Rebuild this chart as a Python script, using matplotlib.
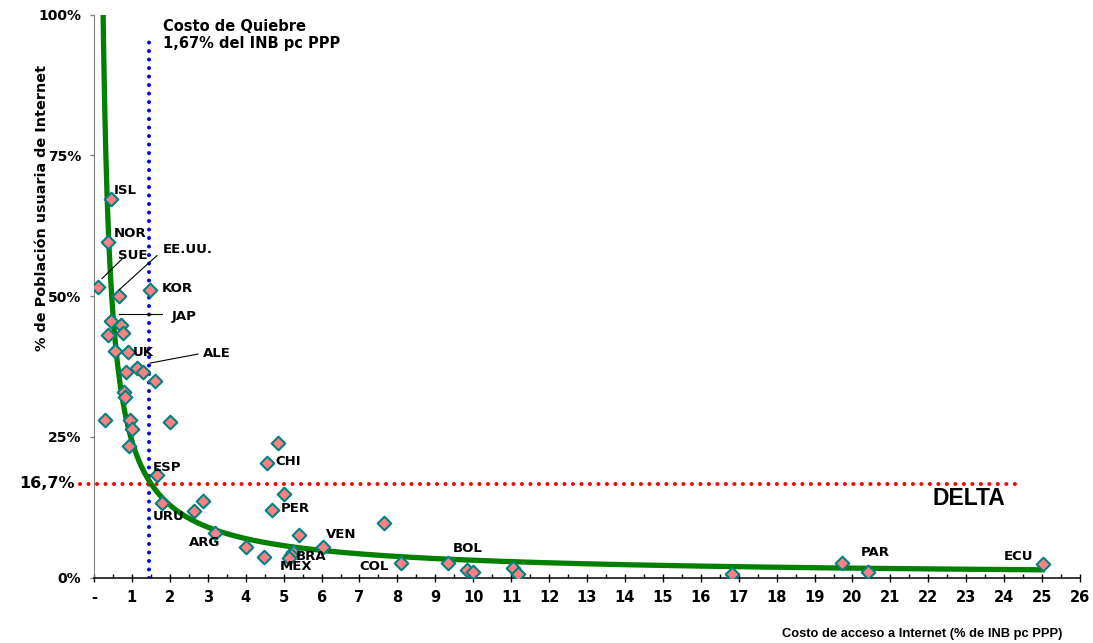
import numpy as np
import matplotlib
matplotlib.use('Agg')
import matplotlib.pyplot as plt

# Datos: costo de acceso (% INB pc PPP) y % poblacion usuaria de Internet
costo = [0.44, 0.36, 0.11, 0.65, 1.48, 0.45, 0.70, 0.77, 0.36, 0.55,
         0.90, 1.14, 1.28, 0.84, 1.61, 0.79, 0.83, 0.29, 0.95, 1.01,
         2.01, 0.91, 4.84, 4.55, 1.65, 1.80, 2.64, 2.88, 3.19, 4.01,
         4.47, 5.01, 4.70, 5.41, 5.26, 5.20, 5.15, 6.03, 7.65, 8.09,
         9.33, 9.83, 10.00, 11.06, 11.17, 16.82, 19.72, 20.40, 25.03]
usuarios = [67.3, 59.7, 51.7, 50.0, 51.1, 45.5, 44.9, 43.5, 43.0, 40.3,
            40.1, 37.3, 36.5, 36.6, 34.9, 32.9, 32.1, 28.0, 28.0, 26.3,
            27.6, 23.3, 23.9, 20.4, 18.2, 13.2, 11.9, 13.6, 7.9, 5.5,
            3.7, 14.8, 12.0, 7.6, 4.6, 4.0, 3.5, 5.4, 9.7, 2.5,
            2.5, 1.3, 1.0, 1.7, 0.6, 0.6, 2.5, 0.9, 2.4]

# etiquetas de paises
paises = ['ISL', 'NOR', 'SUE', 'EE.UU.', 'KOR', 'JAP', 'UK', 'ALE', 'CHI', 'ESP',
          'URU', 'ARG', 'PER', 'VEN', 'BRA', 'MEX', 'COL', 'BOL', 'PAR', 'ECU']
pais_x = [0.52, 0.52, 0.63, 1.81, 1.79, 2.06, 1.03, 2.87, 4.77, 1.56,
          1.56, 2.50, 4.93, 6.11, 5.33, 4.91, 7.01, 9.47, 20.22, 23.99]
pais_y = [68.7, 61.1, 57.2, 58.2, 51.3, 46.3, 39.9, 39.8, 20.7, 19.6,
          10.8, 6.3, 12.2, 7.7, 3.8, 2.0, 2.0, 5.1, 4.4, 3.8]

# lineas guia (x0, y0, x1, y1)
guias = [(0.21, 53.1, 0.74, 56.6),
         (0.66, 51.1, 1.66, 57.2),
         (0.66, 46.8, 1.79, 46.8),
         (1.48, 38.1, 2.74, 39.7)]

# tendencia potencial y = a * (x + d)^b
a_fit = 23.16
d_fit = -0.05
b_fit = -0.88
costo_quiebre = 1.45
pobl_quiebre = 16.7

fig = plt.figure(figsize=(10.93, 6.43), dpi=100)
ax = fig.add_axes([94/1093, 1 - 577.5/643, (1080 - 94)/1093, (577.5 - 14.7)/643])

# curva de tendencia
xc = np.linspace(0.22, 25.0, 800)
ax.plot(xc, a_fit * (xc + d_fit) ** b_fit, color='#008000', lw=3.8, zorder=3)

# lineas de quiebre
dots = (0, (0.01, 2.1))
ax.plot([costo_quiebre, costo_quiebre], [0, 96.3], color='#0000FF', lw=2.9,
        linestyle=dots, dash_capstyle='round', zorder=2)
ax.plot([-0.37, 24.42], [pobl_quiebre, pobl_quiebre], color='#FF0000', lw=2.9,
        linestyle=dots, dash_capstyle='round', zorder=2, clip_on=False)

# puntos
ax.scatter(costo, usuarios, marker='D', s=48, facecolor='#FF8080',
           edgecolor='#008080', linewidth=1.5, zorder=4)

for p, px, py in zip(paises, pais_x, pais_y):
    ax.text(px, py, p, fontsize=9.5, fontweight='bold', va='center', ha='left',
            zorder=5)

for x0, y0, x1, y1 in guias:
    ax.plot([x0, x1], [y0, y1], color='black', lw=0.8, zorder=5)

ax.text(22.1, 14.0, 'DELTA', fontsize=16.5, fontweight='bold',
        family='Liberation Sans', va='center', ha='left')
ax.text(1.82, 99.2, 'Costo de Quiebre\n1,67% del INB pc PPP', fontsize=10.5,
        fontweight='bold', va='top', ha='left', linespacing=1.15)
ax.text(-0.5, pobl_quiebre, '16,7%', fontsize=11.5, fontweight='bold',
        va='center', ha='right', clip_on=False)

# ejes
ax.set_xlim(0, 26)
ax.set_ylim(0, 100)
ax.set_xticks(range(0, 27))
ax.set_xticklabels(['-'] + [str(i) for i in range(1, 27)], fontsize=10.5,
                   fontweight='bold')
ax.set_xticks(np.arange(0.5, 26, 1.0), minor=True)
ax.set_yticks([0, 25, 50, 75, 100])
ax.set_yticklabels(['0%', '25%', '50%', '75%', '100%'], fontsize=10,
                   fontweight='bold')
ax.tick_params(axis='x', which='major', direction='inout', length=6, width=1,
               pad=6)
ax.tick_params(axis='x', which='minor', direction='in', length=3, width=1)
ax.tick_params(axis='y', which='major', direction='out', length=3, width=1,
               color='#808080', pad=6)

ax.spines['top'].set_visible(False)
ax.spines['right'].set_visible(False)
ax.spines['left'].set_color('#808080')
ax.spines['bottom'].set_linewidth(1.1)

fig.text(42/1093, 1 - 208/643, '% de Población usuaria de Internet', rotation=90,
         fontsize=10.4, fontweight='bold', ha='center', va='center')
fig.text(1062/1093, 1 - 634/643, 'Costo de acceso a Internet (% de INB pc PPP)',
         fontsize=9.3, fontweight='bold', family='Liberation Sans',
         ha='right', va='center')

fig.savefig('out.png', dpi=100)
